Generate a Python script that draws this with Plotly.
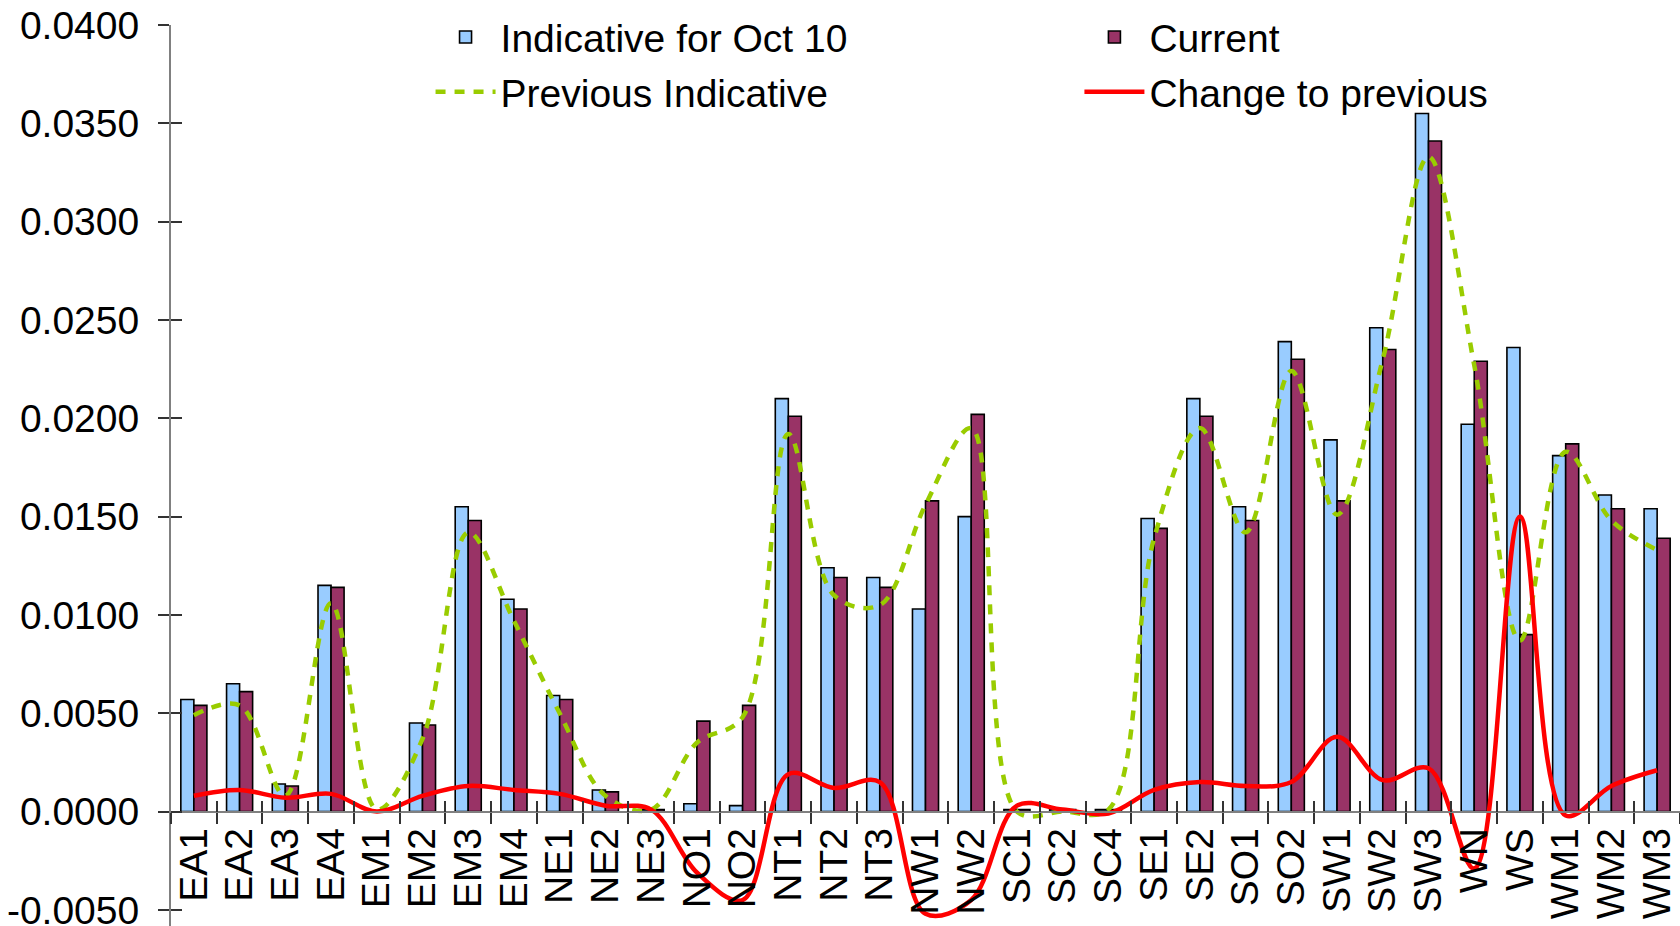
import plotly.graph_objects as go

categories = ["EA1", "EA2", "EA3", "EA4", "EM1", "EM2", "EM3", "EM4", "NE1", "NE2", "NE3",
              "NO1", "NO2", "NT1", "NT2", "NT3", "NW1", "NW2", "SC1", "SC2", "SC4",
              "SE1", "SE2", "SO1", "SO2", "SW1", "SW2", "SW3", "WN", "WS", "WM1", "WM2", "WM3"]

indicative_oct10 = [0.0057, 0.0065, 0.0014, 0.0115, 0.0000, 0.0045, 0.0155, 0.0108, 0.0059, 0.0011, 0.0001,
                    0.0004, 0.0003, 0.0210, 0.0124, 0.0119, 0.0103, 0.0150, 0.0001, 0.0001, 0.0001,
                    0.0149, 0.0210, 0.0155, 0.0239, 0.0189, 0.0246, 0.0355, 0.0197, 0.0236, 0.0181, 0.0161, 0.0154]

current = [0.0054, 0.0061, 0.0013, 0.0114, 0.0000, 0.0044, 0.0148, 0.0103, 0.0057, 0.0010, 0.0001,
           0.0046, 0.0054, 0.0201, 0.0119, 0.0114, 0.0158, 0.0202, 0.0001, 0.0001, 0.0001,
           0.0144, 0.0201, 0.0148, 0.0230, 0.0158, 0.0235, 0.0341, 0.0229, 0.0090, 0.0187, 0.0154, 0.0139]

previous_indicative = [0.0049, 0.0054, 0.0008, 0.0106, 0.0001, 0.0037, 0.0142, 0.0097, 0.0050, 0.0008, 0.0001,
                       0.0035, 0.0048, 0.0192, 0.0110, 0.0105, 0.0156, 0.0195, 0.0000, 0.0000, 0.0001,
                       0.0139, 0.0195, 0.0142, 0.0224, 0.0151, 0.0230, 0.0333, 0.0227, 0.0087, 0.0183, 0.0148, 0.0133]

change_to_previous = [0.0008, 0.0011, 0.0007, 0.0009, 0.0000, 0.0008, 0.0013, 0.0011, 0.0009, 0.0003, 0.0001,
                      -0.0031, -0.0045, 0.0019, 0.0012, 0.0015, -0.0052, -0.0045, 0.0003, 0.0001, -0.0001,
                      0.0011, 0.0015, 0.0013, 0.0015, 0.0038, 0.0016, 0.0022, -0.0029, 0.0150, -0.0002, 0.0013, 0.0021]

y_tick_values = [-0.005, 0.0, 0.005, 0.010, 0.015, 0.020, 0.025, 0.030, 0.035, 0.040]
y_tick_labels = ["-0.0050", "0.0000", "0.0050", "0.0100", "0.0150", "0.0200",
                 "0.0250", "0.0300", "0.0350", "0.0400"]

FONT = "Liberation Sans, Arial, sans-serif"
FS = 39
Y_MIN, Y_MAX = -0.00582, 0.040
x_pos = (0 - Y_MIN) / (Y_MAX - Y_MIN)

fig = go.Figure()

fig.add_trace(go.Bar(
    x=categories, y=indicative_oct10, name="Indicative for Oct 10",
    marker=dict(color="#99CCFF", line=dict(color="#000000", width=1.6)),
    legend="legend", legendgroup="g1",
))
fig.add_trace(go.Bar(
    x=categories, y=current, name="Current",
    marker=dict(color="#993366", line=dict(color="#000000", width=1.6)),
    legend="legend2", legendgroup="g2",
))
fig.add_trace(go.Scatter(
    x=categories, y=previous_indicative, name="Previous Indicative", mode="lines",
    line=dict(color="#99CC00", width=4.5, dash="10px,9px", shape="spline", smoothing=1.0),
    legend="legend", legendgroup="g3",
))
fig.add_trace(go.Scatter(
    x=categories, y=change_to_previous, name="Change to previous", mode="lines",
    line=dict(color="#FF0000", width=4.5, shape="spline", smoothing=1.0),
    legend="legend2", legendgroup="g4",
))
# invisible helper trace that carries the overlay axes (for crossing tick marks)
fig.add_trace(go.Scatter(
    x=categories, y=[None] * len(categories), xaxis="x2", yaxis="y2",
    mode="lines", showlegend=False, hoverinfo="skip",
))

legend_common = dict(
    font=dict(family=FONT, size=FS, color="#000000"),
    bgcolor="rgba(0,0,0,0)", orientation="v",
    yanchor="top", xanchor="left", tracegroupgap=1, itemwidth=60,
)

fig.update_layout(
    width=1680, height=926,
    margin=dict(l=171, r=0, t=25, b=0, pad=0, autoexpand=False),
    paper_bgcolor="white", plot_bgcolor="white",
    barmode="group", bargap=0.43, bargroupgap=0.0,
    font=dict(family=FONT, size=FS, color="#000000"),
    legend=dict(x=0.172, y=1.022, **legend_common),
    legend2=dict(x=0.602, y=1.022, **legend_common),
    xaxis=dict(
        type="category", categoryorder="array", categoryarray=categories,
        range=[-0.5, len(categories) - 0.5],
        tickmode="array", tickvals=categories, ticktext=categories,
        anchor="free", position=x_pos, automargin=False,
        showline=True, linecolor="#808080", linewidth=2,
        ticks="outside", ticklen=11, tickwidth=1.5, tickcolor="#333333",
        tickson="boundaries", tickangle=-90,
        tickfont=dict(family=FONT, size=FS, color="#000000"),
        ticklabelstandoff=0, ticklabeloverflow="allow",
        showgrid=False, zeroline=False,
    ),
    xaxis2=dict(
        type="category", categoryorder="array", categoryarray=categories,
        tickmode="array", tickvals=categories, automargin=False,
        matches="x", overlaying="x", anchor="free", position=x_pos,
        showline=False, ticks="inside", ticklen=11, tickwidth=1.5, tickcolor="#333333",
        tickson="boundaries", showticklabels=False, showgrid=False, zeroline=False,
    ),
    yaxis=dict(
        range=[Y_MIN, Y_MAX], tickmode="array", tickvals=y_tick_values, ticktext=y_tick_labels,
        automargin=False,
        showline=True, linecolor="#808080", linewidth=2,
        ticks="outside", ticklen=11, tickwidth=1.5, tickcolor="#333333",
        tickfont=dict(family=FONT, size=FS, color="#000000"),
        ticklabelstandoff=11, ticklabeloverflow="allow",
        showgrid=False, zeroline=False,
    ),
    yaxis2=dict(
        matches="y", overlaying="y", anchor="x", side="left", automargin=False,
        tickmode="array", tickvals=y_tick_values, showline=False,
        ticks="inside", ticklen=11, tickwidth=1.5, tickcolor="#333333",
        showticklabels=False, showgrid=False, zeroline=False,
    ),
)

fig.write_html("out.html", config={"displayModeBar": False},
               post_script="document.body.style.margin='0';")
